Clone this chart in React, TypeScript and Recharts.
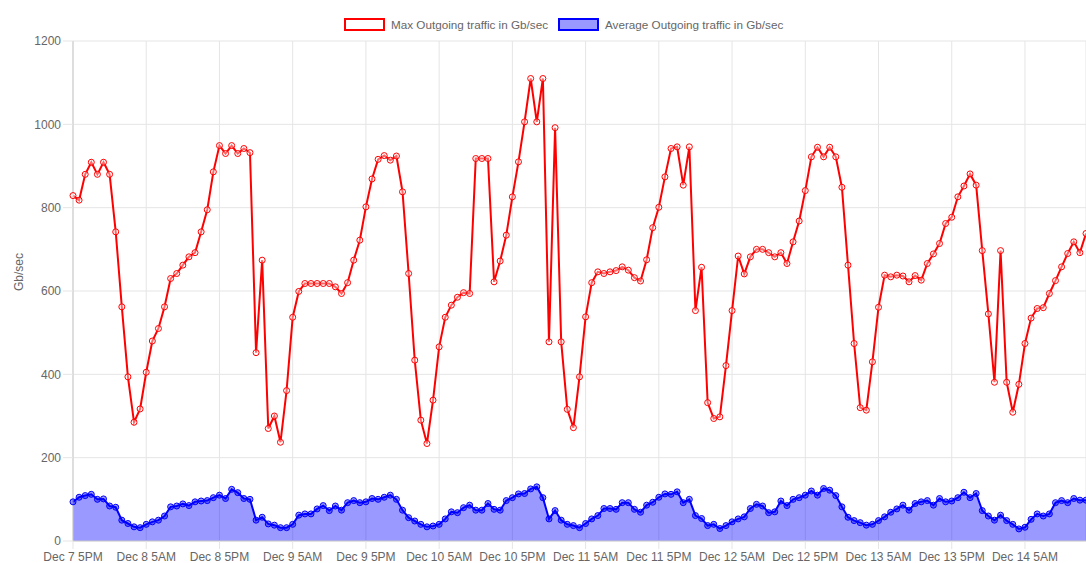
import React from "react";
import {
  Area,
  CartesianGrid,
  ComposedChart,
  Line,
  XAxis,
  YAxis,
} from "recharts";

// hourly samples starting Dec 7 5PM
const START_DAY = 7;
const START_HOUR = 17;

const tickLabels = [
  "Dec 7 5PM",
  "Dec 8 5AM",
  "Dec 8 5PM",
  "Dec 9 5AM",
  "Dec 9 5PM",
  "Dec 10 5AM",
  "Dec 10 5PM",
  "Dec 11 5AM",
  "Dec 11 5PM",
  "Dec 12 5AM",
  "Dec 12 5PM",
  "Dec 13 5AM",
  "Dec 13 5PM",
  "Dec 14 5AM",
];

const yTicks = [0, 200, 400, 600, 800, 1000, 1200];

const maxTraffic = [
  829, 818, 880, 909, 880, 909, 880, 742, 562, 394, 285, 317, 405, 480, 510, 562, 630, 642, 662, 682, 692, 742, 795, 886,
  949, 930, 949, 930, 942, 932, 452, 674, 270, 300, 237, 361, 537, 599, 618, 618, 618, 618, 618, 610, 594, 620, 674, 722,
  802, 869, 916, 925, 914, 924, 838, 642, 434, 290, 234, 338, 466, 537, 566, 585, 596, 594, 918, 918, 918, 622, 672, 734,
  826, 910, 1006, 1110, 1006, 1110, 478, 992, 478, 316, 272, 394, 538, 620, 646, 642, 646, 649, 658, 650, 632, 624, 675, 752,
  801, 874, 942, 946, 854, 946, 553, 657, 332, 294, 298, 421, 553, 684, 641, 682, 700, 700, 692, 682, 692, 666, 718, 768,
  841, 922, 945, 922, 945, 922, 849, 662, 474, 320, 314, 430, 561, 638, 634, 638, 636, 622, 637, 626, 666, 689, 714, 762,
  777, 826, 852, 881, 854, 697, 545, 381, 697, 381, 309, 376, 474, 535, 558, 560, 594, 625, 658, 690, 718, 692, 738,
];

const avgTraffic = [
  94, 105, 109, 112, 100, 101, 84, 81, 50, 42, 34, 32, 40, 46, 50, 60, 82, 84, 89, 85, 94, 96, 97, 104,
  110, 102, 124, 116, 102, 100, 50, 57, 41, 38, 32, 32, 40, 62, 65, 65, 77, 85, 73, 84, 74, 92, 97, 92,
  94, 102, 100, 105, 110, 100, 74, 56, 48, 40, 34, 36, 40, 53, 70, 68, 80, 86, 74, 74, 90, 76, 74, 97,
  104, 113, 114, 125, 130, 104, 53, 73, 50, 40, 37, 32, 42, 53, 61, 78, 78, 76, 92, 92, 76, 69, 86, 93,
  105, 113, 112, 118, 92, 100, 61, 54, 37, 40, 30, 37, 46, 53, 58, 78, 88, 84, 68, 70, 96, 85, 100, 104,
  110, 120, 110, 126, 122, 109, 82, 57, 49, 44, 38, 40, 49, 58, 69, 77, 86, 74, 90, 94, 97, 86, 102, 94,
  96, 104, 117, 104, 114, 73, 60, 50, 62, 49, 40, 29, 33, 52, 65, 60, 65, 92, 97, 92, 102, 98, 98,
];

const hourLabel = (i: number) => {
  const total = START_HOUR + i;
  const day = START_DAY + Math.floor(total / 24);
  const h = total % 24;
  const h12 = h % 12 === 0 ? 12 : h % 12;
  return `Dec ${day} ${h12}${h < 12 ? "AM" : "PM"}`;
};

const data = maxTraffic.map((max, i) => ({
  time: hourLabel(i),
  max,
  avg: avgTraffic[i],
}));

const FONT = "'Liberation Sans', Arial, Helvetica, sans-serif";
const GRID = "#e5e5e5";
const AXIS = "#cfcfcf";

function LegendItem({
  left,
  label,
  border,
  fill,
}: {
  left: number;
  label: string;
  border: string;
  fill: string;
}) {
  return (
    <div
      style={{
        position: "absolute",
        left,
        top: 18,
        display: "flex",
        alignItems: "center",
        fontSize: 11.7,
        color: "#666",
        whiteSpace: "nowrap",
      }}
    >
      <span
        style={{
          display: "inline-block",
          width: 37,
          height: 9,
          border: `2px solid ${border}`,
          background: fill,
          marginRight: 6,
        }}
      />
      <span>{label}</span>
    </div>
  );
}

export default function App() {
  return (
    <div
      style={{
        position: "absolute",
        left: 0,
        top: 0,
        width: 1086,
        height: 563,
        overflow: "hidden",
        background: "#fff",
        fontFamily: FONT,
      }}
    >
      <LegendItem
        left={344}
        label="Max Outgoing traffic in Gb/sec"
        border="#ff0000"
        fill="#ffffff"
      />
      <LegendItem
        left={558}
        label="Average Outgoing traffic in Gb/sec"
        border="#0000ff"
        fill="rgba(0,0,255,0.4)"
      />
      <ComposedChart
        width={1100}
        height={563}
        data={data}
        margin={{ top: 41, right: 14, bottom: 0, left: 0 }}
      >
        <CartesianGrid stroke={GRID} />
        <XAxis
          dataKey="time"
          type="category"
          scale="point"
          ticks={tickLabels}
          interval={0}
          height={22}
          tickSize={8}
          tickMargin={3}
          tick={{ fill: "#666", fontSize: 12 }}
          tickLine={{ stroke: GRID }}
          axisLine={{ stroke: AXIS }}
        />
        <YAxis
          domain={[0, 1200]}
          ticks={yTicks}
          width={73}
          tickSize={10}
          tickMargin={2}
          tick={{ fill: "#666", fontSize: 12 }}
          tickLine={{ stroke: GRID }}
          axisLine={{ stroke: AXIS }}
          label={{
            content: () => (
              <text
                x={20}
                y={272}
                transform="rotate(-90 20 272)"
                textAnchor="middle"
                dominantBaseline="middle"
                fill="#666"
                fontSize={12}
              >
                Gb/sec
              </text>
            ),
          }}
        />
        <Line
          type="linear"
          dataKey="max"
          name="Max Outgoing traffic in Gb/sec"
          stroke="#ff0000"
          strokeWidth={2}
          dot={{ r: 3, stroke: "#ff0000", strokeWidth: 1, fill: "rgba(255,255,255,0.4)" }}
          isAnimationActive={false}
        />
        <Area
          type="linear"
          dataKey="avg"
          name="Average Outgoing traffic in Gb/sec"
          stroke="#0000ff"
          strokeWidth={2}
          fill="#0000ff"
          fillOpacity={0.4}
          dot={{ r: 3, stroke: "#0000ff", strokeWidth: 1, fill: "rgba(0,0,255,0.4)", fillOpacity: 1 }}
          isAnimationActive={false}
        />
      </ComposedChart>
    </div>
  );
}
